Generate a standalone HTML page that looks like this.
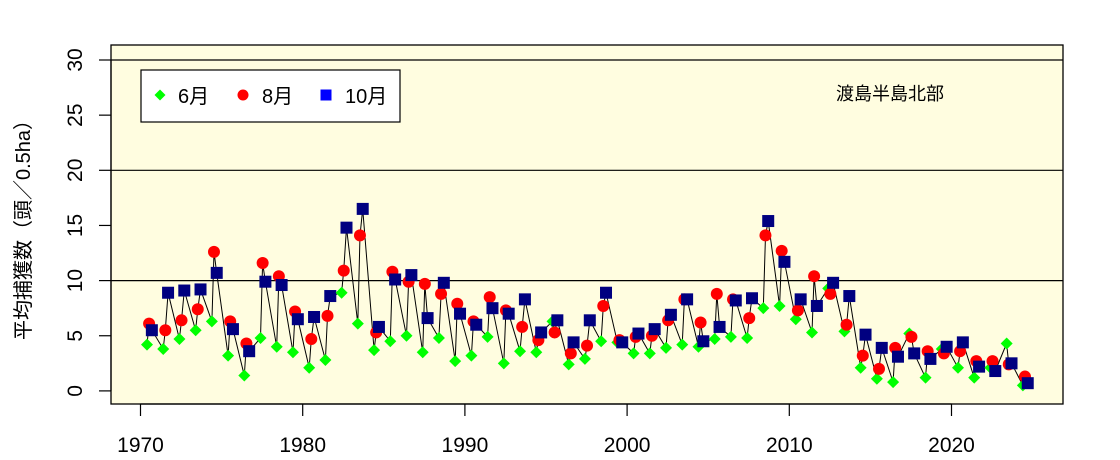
<!DOCTYPE html>
<html><head><meta charset="utf-8"><style>
body{margin:0;background:#fff;}
svg{display:block;font-family:"Liberation Sans","Noto Sans CJK JP",sans-serif;}
</style></head><body>
<svg id="chart" width="1120" height="460" xmlns="http://www.w3.org/2000/svg">
<rect x="111" y="45" width="952" height="359" fill="#FFFDE0" stroke="none"/>
<g id="grid"></g>
<g id="series"></g>
<rect x="111" y="45" width="952" height="359" fill="none" stroke="#000" stroke-width="1.3"/>
<g id="axes"></g>
<g>
<rect x="141" y="70" width="259" height="52" fill="#fff" stroke="#000" stroke-width="1.2"/>
<polygon points="160,89.5 165.5,95 160,100.5 154.5,95" fill="#00FF00"/>
<text x="178" y="103" font-size="20">6月</text>
<circle cx="243" cy="95" r="5.5" fill="#FF0000"/>
<text x="262" y="103" font-size="20">8月</text>
<rect x="320.5" y="89.5" width="11" height="11" fill="#0000FF"/>
<text x="345" y="103" font-size="20">10月</text>
</g>
<text x="890" y="100" font-size="18" text-anchor="middle">渡島半島北部</text>
<text transform="translate(30,225) rotate(-90)" font-size="20" text-anchor="middle">平均捕獲数（頭／0.5ha）</text>
</svg>
<script>
const years = [];
for (let y = 1970; y <= 2024; y++) years.push(y);
const juneValues = [4.2,3.8,4.7,5.5,6.3,3.2,1.4,4.8,4.0,3.5,2.1,2.8,8.9,6.1,3.7,4.5,5.0,3.5,4.8,2.7,3.2,4.9,2.5,3.6,3.5,6.3,2.4,2.9,4.5,4.4,3.4,3.4,3.9,4.2,4.0,4.7,4.9,4.8,7.5,7.7,6.5,5.3,9.3,5.4,2.1,1.1,0.8,5.2,1.2,3.8,2.1,1.2,2.1,4.3,0.5];
const augustValues = [6.1,5.5,6.4,7.4,12.6,6.3,4.3,11.6,10.4,7.2,4.7,6.8,10.9,14.1,5.3,10.8,9.9,9.7,8.8,7.9,6.3,8.5,7.3,5.8,4.6,5.3,3.4,4.1,7.7,4.6,4.9,5.0,6.4,8.3,6.2,8.8,8.3,6.6,14.1,12.7,7.3,10.4,8.8,6.0,3.2,2.0,3.9,4.9,3.6,3.4,3.6,2.7,2.7,2.4,1.3];
const octoberValues = [5.5,8.9,9.1,9.2,10.7,5.6,3.6,9.9,9.6,6.5,6.7,8.6,14.8,16.5,5.8,10.1,10.5,6.6,9.8,7.0,6.0,7.5,7.0,8.3,5.3,6.4,4.4,6.4,8.9,4.4,5.2,5.6,6.9,8.3,4.5,5.8,8.2,8.4,15.4,11.7,8.3,7.7,9.8,8.6,5.1,3.9,3.1,3.4,2.9,4.0,4.4,2.2,1.8,2.5,0.7];
const xTicks = [1970,1980,1990,2000,2010,2020];
const yTicks = [0,5,10,15,20,25,30];
const gridLines = [10,20,30];

const NS = "http://www.w3.org/2000/svg";
const xs = v => 140.5 + (v - 1970) * 16.22;
const ys = v => 390.9 - v * 11.03;
function mk(tag, attrs, parent){const e=document.createElementNS(NS,tag);for(const k in attrs)e.setAttribute(k,attrs[k]);parent.appendChild(e);return e;}
const grid=document.getElementById('grid'), ser=document.getElementById('series'), axes=document.getElementById('axes');

gridLines.forEach(v=>{
  const l=mk('line',{x1:111,x2:1063,y1:ys(v),y2:ys(v),stroke:'#000','stroke-width':1.2},grid);
  
  
});

const pts=[];
years.forEach((y,i)=>{
  pts.push({x:xs(y+0.40),y:ys(juneValues[i]),t:'june',yr:y});
  pts.push({x:xs(y+0.53),y:ys(augustValues[i]),t:'august',yr:y});
  pts.push({x:xs(y+0.70),y:ys(octoberValues[i]),t:'october',yr:y});
});
const path=mk('polyline',{points:pts.map(p=>p.x.toFixed(1)+','+p.y.toFixed(1)).join(' '),fill:'none',stroke:'#000','stroke-width':1},ser);


pts.forEach(p=>{
  let e;
  if(p.t==='june'){
    e=mk('polygon',{points:`${p.x},${p.y-6} ${p.x+6},${p.y} ${p.x},${p.y+6} ${p.x-6},${p.y}`,fill:'#00FF00'},ser);
  } else if(p.t==='august'){
    e=mk('circle',{cx:p.x,cy:p.y,r:6,fill:'#FF0000'},ser);
  } else {
    e=mk('rect',{x:p.x-6,y:p.y-6,width:12,height:12,fill:'#000080'},ser);
  }
  
  
});

const xl=mk('line',{x1:xs(1970),x2:xs(2020),y1:404,y2:404,stroke:'#000','stroke-width':1.2},axes);


xTicks.forEach(v=>{
  const t=mk('line',{x1:xs(v),x2:xs(v),y1:404,y2:416,stroke:'#000','stroke-width':1.2},axes);
  
  
  const tx=mk('text',{x:xs(v),y:452,'font-size':21,'text-anchor':'middle'},axes);
  tx.textContent=v;
  
  
});
const yl=mk('line',{x1:111,x2:111,y1:ys(0),y2:ys(30),stroke:'#000','stroke-width':1.2},axes);


yTicks.forEach(v=>{
  const t=mk('line',{x1:99,x2:111,y1:ys(v),y2:ys(v),stroke:'#000','stroke-width':1.2},axes);
  
  
  const tx=mk('text',{transform:`translate(82,${ys(v)}) rotate(-90)`,'font-size':21,'text-anchor':'middle'},axes);
  tx.textContent=v;
  
  
});
</script>
</body></html>
